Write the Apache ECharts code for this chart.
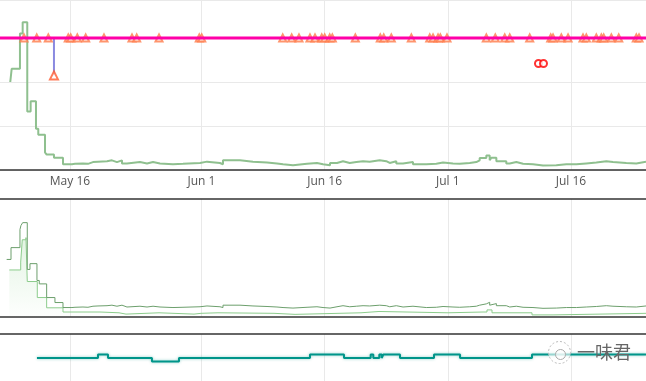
<!DOCTYPE html>
<html>
<head>
<meta charset="utf-8">
<script src="https://cdn.jsdelivr.net/npm/echarts@6/dist/echarts.min.js"></script>
<style>
html,body{margin:0;padding:0;background:#fff;}
#chart{width:646px;height:381px;}
</style>
</head>
<body>
<div id="chart"></div>
<script>
// x values are days relative to May 16
const xMin = -8.52, xMax = 70.13;
const tickDays = [0, 16, 31, 46, 61];
const tickLabels = ['May 16', 'Jun 1', 'Jun 16', 'Jul 1', 'Jul 16'];

// top panel: main step line
const mainLine = [[-7.27,2.00],[-7.10,2.30],[-6.09,3.10],[-5.76,3.36],[-5.20,1.33],[-4.79,1.56],[-4.14,0.94],[-3.86,0.80],[-3.04,0.40],[-2.84,0.35],[-1.95,0.28],[-0.85,0.13],
[0.24,0.14],[0.61,0.15],[1.58,0.14],[2.19,0.18],[2.80,0.19],[3.41,0.20],[4.51,0.22],[5.11,0.18],[5.72,0.22],[6.33,0.15],[6.94,0.18],[8.52,0.15],[9.38,0.18],[10.11,0.15],[10.96,0.13],[12.54,0.14],[13.76,0.16],[15.83,0.19],[16.68,0.16],[18.26,0.13],[18.63,0.22],[20.70,0.19],[22.28,0.17],[23.99,0.15],[25.20,0.13],[25.94,0.11],[27.15,0.14],[28.86,0.16],[30.07,0.13],[30.81,0.11],[31.66,0.16],[32.51,0.20],[33.24,0.16],[34.06,0.18],[34.86,0.20],[35.68,0.19],[36.49,0.22],[37.71,0.20],[38.51,0.16],[38.93,0.20],[39.73,0.15],[40.55,0.18],[41.76,0.13],[43.38,0.14],[44.60,0.17],[45.42,0.15],[46.63,0.14],[47.45,0.16],[48.67,0.18],[49.47,0.22],[49.88,0.27],[50.69,0.33],[51.10,0.22],[51.30,0.28],[51.91,0.20],[53.12,0.15],[53.54,0.18],[54.34,0.14],[55.16,0.13],[56.37,0.10],[57.59,0.11],[59.21,0.13],[60.43,0.13],[61.65,0.15],[62.86,0.17],[64.08,0.20],[65.30,0.18],[66.11,0.16],[67.73,0.15],[68.95,0.19],[70.13,0.19]];

// constant level line and triangle events on it
const levelValue = 3;
const triangleDays = [-5.60,-4.05,-2.64,-0.21,0.09,0.89,1.91,4.14,7.55,8.12,10.84,15.74,16.04,25.90,26.99,27.88,29.22,29.83,30.65,31.01,31.62,31.94,34.74,37.78,38.20,39.12,41.56,43.80,44.20,44.81,45.09,45.90,50.69,51.78,52.93,53.54,55.97,58.53,58.81,59.82,60.64,62.46,62.86,64.08,64.69,64.98,65.91,66.81,68.95,69.28];
const outlierPoint = [-1.95, 2.15];
const ringPoints = [[57.04, 2.42], [57.65, 2.42]];

// middle panel
const midDarkStart = [[-7.71,1.96],[-7.18,2.41],[-6.09,3.10],[-5.97,3.25],[-5.76,3.36],[-5.20,1.58],[-4.87,1.80],[-4.02,1.16],[-3.74,1.03],[-2.84,0.51],[-1.83,0.32],[-0.85,0.13]];
const midLight = [[-7.39,1.56],[-6.00,1.86],[-5.81,2.71],[-5.36,2.79],[-5.20,1.12],[-3.98,0.51],[-2.84,0.12],[-0.85,-0.04],[3.65,-0.07],[5.97,-0.12],[6.82,-0.07],[10.84,-0.12],[15.10,-0.09],[15.95,-0.07],[18.02,-0.09],[24.84,-0.13],[27.40,-0.07],[35.43,-0.02],[37.62,-0.07],[46.02,-0.04],[50.29,-0.04],[50.77,0.04],[51.38,-0.07],[56.25,-0.15],[58.81,-0.09],[70.13,-0.09]];

// bottom panel
const bottomLine = [[-4.02,2],[3.41,3],[4.63,2],[9.98,1],[13.27,2],[29.22,3],[33.36,2],[36.61,3],[36.93,2],[37.66,3],[37.95,2],[38.15,3],[40.18,2],[44.32,3],[47.49,2],[56.25,3],[70.13,3]];

const midDark = midDarkStart.concat(mainLine.slice(12));

const splitColor = '#e9e9e9';
function xAx(grid, opts) {
  return Object.assign({
    type: 'value', gridIndex: grid, min: xMin, max: xMax,
    axisLine: {show: true, onZero: false, lineStyle: {color: '#333', width: 1.5}},
    axisTick: {show: false, customValues: tickDays},
    axisLabel: {show: false, customValues: tickDays},
    splitLine: {show: true, lineStyle: {color: splitColor, width: 1}}
  }, opts);
}

const chart = echarts.init(document.getElementById('chart'), null, {renderer: 'canvas'});
chart.setOption({
  animation: false,
  backgroundColor: '#fff',
  grid: [
    {left: 0, right: 0, top: 0, height: 170},
    {left: 0, right: 0, top: 199, height: 118},
    {left: 0, right: 0, top: 334, height: 47}
  ],
  xAxis: [
    xAx(0, {position: 'bottom', axisLabel: {show: true, customValues: tickDays, margin: 6, color: '#555', fontSize: 12, fontFamily: 'Open Sans',
      formatter: v => { const i = tickDays.indexOf(Math.round(v)); return i >= 0 ? tickLabels[i] : ''; }}}),
    xAx(1, {position: 'bottom'}),
    xAx(1, {position: 'top', splitLine: {show: false}}),
    xAx(2, {position: 'top'})
  ],
  yAxis: [
    {type: 'value', gridIndex: 0, min: 0, max: 3.864, interval: 1, axisLine: {show: false}, axisTick: {show: false}, axisLabel: {show: false}, splitLine: {show: true, lineStyle: {color: splitColor}}},
    {type: 'value', gridIndex: 1, min: -0.23, max: 4.26, axisLine: {show: false}, axisTick: {show: false}, axisLabel: {show: false}, splitLine: {show: false}},
    {type: 'value', gridIndex: 2, min: -4.57, max: 8.86, axisLine: {show: false}, axisTick: {show: false}, axisLabel: {show: false}, splitLine: {show: false}}
  ],
  series: [
    {type: 'line', xAxisIndex: 0, yAxisIndex: 0, step: 'end', data: mainLine, symbol: 'none', z: 2,
      lineStyle: {color: '#8fc08f', width: 2}},
    {type: 'scatter', xAxisIndex: 0, yAxisIndex: 0, data: triangleDays.map(d => [d, levelValue]), symbol: 'emptyTriangle', symbolSize: 7, z: 3,
      itemStyle: {color: '#ff7a4a', borderWidth: 1.2}},
    {type: 'line', xAxisIndex: 0, yAxisIndex: 0, data: [[outlierPoint[0], levelValue], outlierPoint], symbol: 'none', z: 3,
      lineStyle: {color: '#8a8ae0', width: 2}},
    {type: 'scatter', xAxisIndex: 0, yAxisIndex: 0, data: [outlierPoint], symbol: 'emptyTriangle', symbolSize: 8, z: 5,
      itemStyle: {color: '#ff5a30', borderWidth: 1.3}},
    {type: 'line', xAxisIndex: 0, yAxisIndex: 0, data: [[xMin, levelValue], [xMax, levelValue]], symbol: 'none', z: 4,
      lineStyle: {color: '#ff00a8', width: 3}},
    {type: 'scatter', xAxisIndex: 0, yAxisIndex: 0, data: ringPoints, symbol: 'emptyCircle', symbolSize: 7, z: 5,
      itemStyle: {color: '#ff0000', borderWidth: 2}},
    {type: 'line', xAxisIndex: 1, yAxisIndex: 1, step: 'end', data: midLight, symbol: 'none', z: 2,
      lineStyle: {color: '#8ccc8c', width: 1},
      areaStyle: {origin: 'start', color: new echarts.graphic.LinearGradient(0, 0, 0, 1, [
        {offset: 0, color: 'rgba(140,210,140,0.35)'}, {offset: 1, color: 'rgba(140,210,140,0.02)'}])}},
    {type: 'line', xAxisIndex: 1, yAxisIndex: 1, step: 'end', data: midDark, symbol: 'none', z: 3,
      lineStyle: {color: '#6c9f6c', width: 1}},
    {type: 'line', xAxisIndex: 3, yAxisIndex: 2, step: 'end', data: bottomLine, symbol: 'none', z: 3,
      lineStyle: {color: '#00958a', width: 2, shadowColor: 'rgba(0,150,136,0.45)', shadowBlur: 3}}
  ],
  graphic: [
    {type: 'circle', left: 548, top: 341, shape: {r: 11}, style: {fill: 'rgba(255,255,255,0.6)', stroke: '#bbb', lineWidth: 1, lineDash: [2, 2]}, z: 100},
    {type: 'circle', left: 555, top: 349, shape: {r: 5}, style: {fill: 'rgba(255,255,255,0.6)', stroke: '#aaa', lineWidth: 1}, z: 101},
    {type: 'text', left: 577, top: 343, style: {text: '一味君', fill: '#666', font: '18px "Noto Sans CJK SC"'}, z: 100}
  ]
});
</script>
</body>
</html>
